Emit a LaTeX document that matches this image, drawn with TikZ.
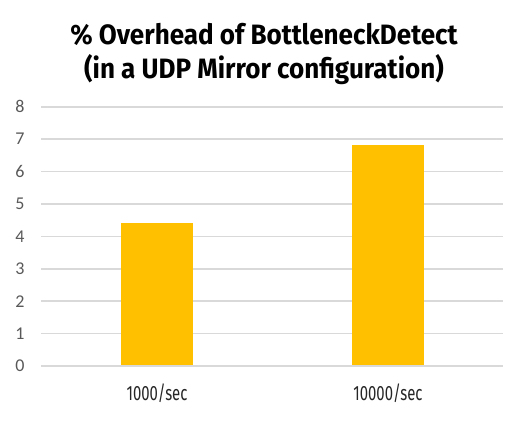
\documentclass[tikz,border=0pt]{standalone}
\usepackage{fontspec}
\setmainfont{Fira Sans}
\newfontfamily\titlefont[FakeStretch=0.93]{Fira Sans}
\newfontfamily\catfont[FakeStretch=0.72]{Fira Sans}
\newfontfamily\tickfont{Carlito}
\definecolor{barfill}{HTML}{FFC000}
\definecolor{gridgray}{HTML}{D9D9D9}
\definecolor{ticktext}{HTML}{595959}
\begin{document}
\begin{tikzpicture}[x=0.75pt,y=-0.75pt,
  gridline/.style={gridgray,line width=1.1pt},
  bar/.style={fill=barfill,draw=none},
  ticklabel/.style={font=\tickfont\fontsize{13.5}{15}\selectfont,text=ticktext,anchor=center,inner sep=0pt},
  catlabel/.style={font=\catfont\fontsize{15.5}{18}\selectfont,text=black!85,anchor=center,inner sep=0pt},
  titletext/.style={font=\titlefont\bfseries\fontsize{21}{26}\selectfont,align=center,inner sep=0pt}]
\useasboundingbox[fill=white] (0,0) rectangle (507,429);
% title
\node[titletext] (title) at (264,54) {\% Overhead of BottleneckDetect\\(in a UDP Mirror configuration)};
% gridlines and tick labels (0 at y=366, 32.4 px per unit)
\foreach \v in {0,...,8}{
  \draw[gridline] (41,{366-32.4*\v}) -- (503,{366-32.4*\v});
  \node[ticklabel] (tick\v) at (20,{366-32.4*\v}) {\v};
}
% bars
\fill[bar] (121,366) rectangle (193,{366-32.4*4.41});
\fill[bar] (352,366) rectangle (424,{366-32.4*6.82});
\draw[gridline] (41,366) -- (503,366);
% category labels
\node[catlabel] (cat1) at (157,393) {1000/sec};
\node[catlabel] (cat2) at (388,393) {10000/sec};
\end{tikzpicture}
\end{document}
